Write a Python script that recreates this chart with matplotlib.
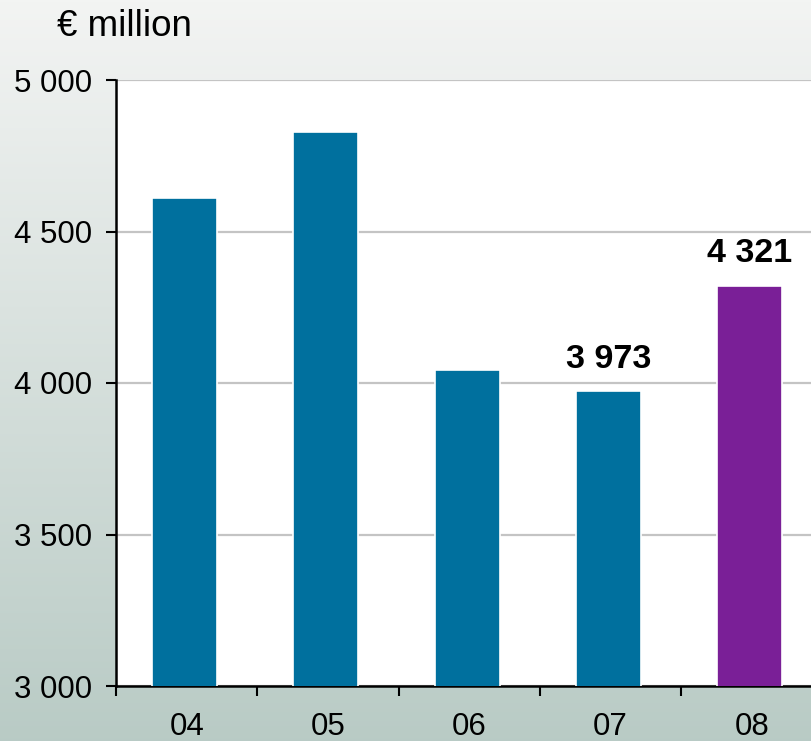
import numpy as np
import matplotlib.pyplot as plt

plt.rcParams['font.family'] = ['Liberation Sans', 'DejaVu Sans']

years = ['04', '05', '06', '07', '08']
values = [4611, 4828, 4043, 3973, 4321]
bar_colors = ['#00709E', '#00709E', '#00709E', '#00709E', '#7A1F97']
labelled = {3: '3 973', 4: '4 321'}
yticks = [3000, 3500, 4000, 4500, 5000]
ytick_labels = ['3 000', '3 500', '4 000', '4 500', '5 000']

fig = plt.figure(figsize=(8.11, 7.41), dpi=100)

# vertical background gradient
bg = fig.add_axes([0, 0, 1, 1], zorder=-10)
top = np.array([0.953, 0.957, 0.953])
bot = np.array([0.725, 0.796, 0.773])
t = np.linspace(0, 1, 256)[:, None]
grad = top * (1 - t) + bot * t
bg.imshow(grad[:, None, :], aspect='auto', extent=[0, 1, 0, 1])
bg.set_axis_off()

ax = fig.add_axes([116 / 811, 55 / 741, 706.5 / 811, 606 / 741])
ax.set_facecolor('white')

x = np.arange(len(years))
ax.bar(x - 0.015, values, width=0.46, color=bar_colors,
       edgecolor='white', linewidth=1.2, zorder=3)

for i, txt in labelled.items():
    ax.text(x[i] - 0.015, values[i] + 55, txt, ha='center', va='bottom',
            fontsize=24.5, fontweight='bold', color='black', zorder=5)

ax.set_xlim(-0.5, len(years) - 0.5)
ax.set_ylim(3000, 5000)

ax.set_yticks(yticks)
ax.set_yticklabels(ytick_labels, fontsize=22.5)
ax.set_xticks(x)
ax.set_xticklabels(years, fontsize=22.5)
ax.set_xticks(np.arange(-0.5, len(years)), minor=True)

ax.yaxis.grid(True, color='#c4c4c4', linewidth=1.6, zorder=1)
ax.set_axisbelow(True)

ax.tick_params(axis='y', direction='out', length=7.5, width=1.5, pad=10, colors='black')
ax.tick_params(axis='x', which='major', length=0, pad=18.5)
ax.tick_params(axis='x', which='minor', direction='out', length=7.5, width=1.5)

for s in ['top', 'right']:
    ax.spines[s].set_visible(False)
for s in ['left', 'bottom']:
    ax.spines[s].set_linewidth(1.8)
    ax.spines[s].set_color('black')

fig.text(57 / 811, 1 - 26 / 741, '€ million', fontsize=26.5, va='center', ha='left')

fig.savefig('out.png', dpi=100)
